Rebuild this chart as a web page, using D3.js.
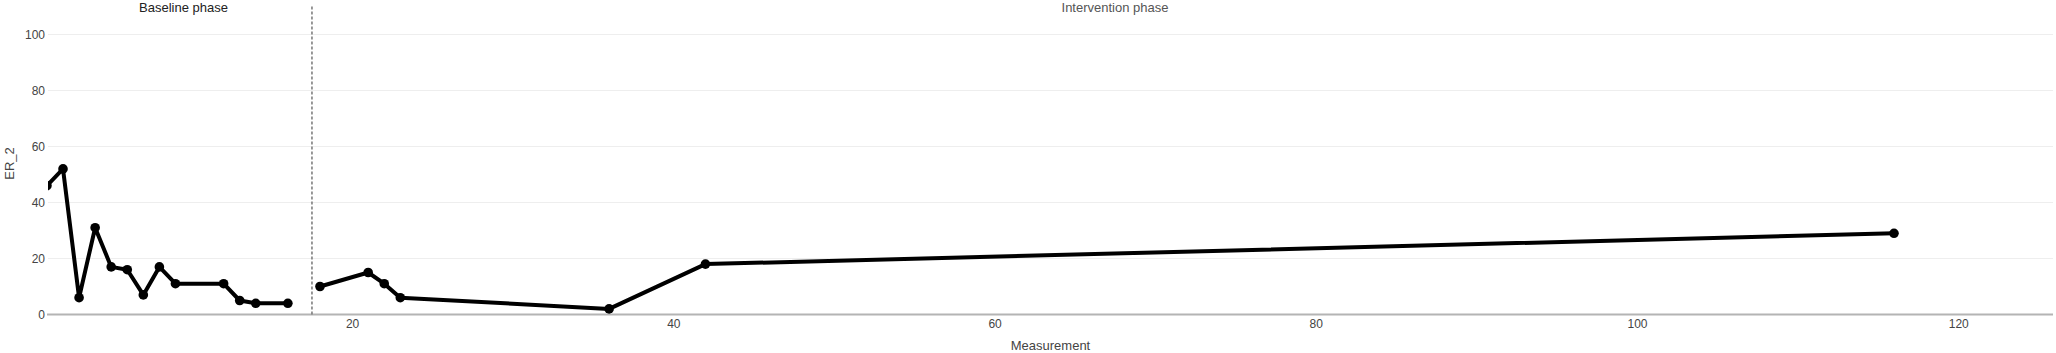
<!DOCTYPE html>
<html>
<head>
<meta charset="utf-8">
<script src="https://cdn.jsdelivr.net/npm/d3@7"></script>
<style>
  body { margin: 0; background: #fff; }
  svg { display: block; font-family: "Liberation Sans", Arial, Helvetica, sans-serif; }
</style>
</head>
<body>
<div id="chart"></div>
<script>
// Data
var baselineX = [1, 2, 3, 4, 5, 6, 7, 8, 9, 12, 13, 14, 16];
var baselineY = [46, 52, 6, 31, 17, 16, 7, 17, 11, 11, 5, 4, 4];
var interventionX = [18, 21, 22, 23, 36, 42, 116];
var interventionY = [10, 15, 11, 6, 2, 18, 29];
var phaseNames = ["Baseline phase", "Intervention phase"];
var phaseStart = [1.5, 17.5];
var phaseEnd = [17.5, 117.5];
var phaseChange = 17.5;
var xTicks = [20, 40, 60, 80, 100, 120];
var yTicks = [0, 20, 40, 60, 80, 100];

var width = 2056, height = 353;
var margin = {top: 6.5, right: 3, bottom: 38.5, left: 48};

var svg = d3.select("#chart").append("svg")
  .attr("width", width)
  .attr("height", height);

//Scales
var x = d3.scaleLinear()
  .domain([1.065, 125.9])
  .range([margin.left, width - margin.right]);

var y = d3.scaleLinear()
  .domain([0, 110])
  .range([height - margin.bottom, margin.top]);

//Clip to the plot area
svg.append("clipPath")
  .attr("id", "plotclip")
  .append("rect")
  .attr("x", margin.left)
  .attr("y", 0)
  .attr("width", width - margin.left - margin.right)
  .attr("height", height - margin.bottom + 2);

//Horizontal grid
svg.append("g")
  .selectAll("line")
  .data(yTicks.filter(d => d > 0))
  .enter()
  .append("line")
  .attr("x1", margin.left)
  .attr("x2", width - margin.right)
  .attr("y1", d => y(d))
  .attr("y2", d => y(d))
  .style("stroke", "#eeeeee")
  .style("stroke-width", 1);

//Y axis labels
var yAxis = svg.append("g")
  .attr("transform", "translate(" + (margin.left - 3) + ",0)")
  .call(d3.axisLeft(y).tickValues(yTicks).tickSize(0).tickPadding(0));
yAxis.select(".domain").remove();
yAxis.selectAll("text")
  .style("font-size", "12px")
  .style("fill", "#444")
  .style("font-family", "Liberation Sans, Arial, sans-serif");

//X axis labels
var xAxis = svg.append("g")
  .attr("transform", "translate(0," + y(0) + ")")
  .call(d3.axisBottom(x).tickValues(xTicks).tickSize(0).tickPadding(5));
xAxis.select(".domain").remove();
xAxis.selectAll("text")
  .style("font-size", "12px")
  .style("fill", "#444")
  .style("font-family", "Liberation Sans, Arial, sans-serif");

//Zero line
svg.append("line")
  .attr("x1", margin.left - 1)
  .attr("x2", width - margin.right)
  .attr("y1", y(0))
  .attr("y2", y(0))
  .style("stroke", "#b4b4b4")
  .style("stroke-width", 2);

//Phase change line
svg.append("line")
  .attr("x1", x(phaseChange))
  .attr("x2", x(phaseChange))
  .attr("y1", margin.top)
  .attr("y2", y(0))
  .style("stroke", "#777")
  .style("stroke-width", 1.5)
  .style("stroke-dasharray", "3,2");

//Phase titles
svg.append("g")
  .selectAll("text")
  .data(phaseNames)
  .enter()
  .append("text")
  .attr("x", (d, i) => x((phaseStart[i] + phaseEnd[i]) / 2))
  .attr("y", 11.5)
  .style("text-anchor", "middle")
  .style("font-size", "13px")
  .style("fill", (d, i) => i === 0 ? "#222" : "#555")
  .text(d => d);

//Series
var series = [
  baselineX.map((d, i) => [d, baselineY[i]]),
  interventionX.map((d, i) => [d, interventionY[i]])
];

var line = d3.line()
  .x(d => x(d[0]))
  .y(d => y(d[1]));

var plot = svg.append("g").attr("clip-path", "url(#plotclip)");

plot.selectAll(".phase-line")
  .data(series)
  .enter()
  .append("path")
  .attr("d", line)
  .style("fill", "none")
  .style("stroke", "#000")
  .style("stroke-width", 4)
  .style("stroke-linejoin", "round");

plot.selectAll(".pt")
  .data(series.flat())
  .enter()
  .append("circle")
  .attr("cx", d => x(d[0]))
  .attr("cy", d => y(d[1]))
  .attr("r", 4.8)
  .style("fill", "#000");

//Axis titles
svg.append("text")
  .attr("x", (margin.left + width - margin.right) / 2)
  .attr("y", 349.5)
  .style("text-anchor", "middle")
  .style("font-size", "13px")
  .style("fill", "#444")
  .text("Measurement");

svg.append("text")
  .attr("transform", "translate(14," + 163.5 + ") rotate(-90)")
  .style("text-anchor", "middle")
  .style("font-size", "13px")
  .style("fill", "#444")
  .text("ER_2");
</script>
</body>
</html>
